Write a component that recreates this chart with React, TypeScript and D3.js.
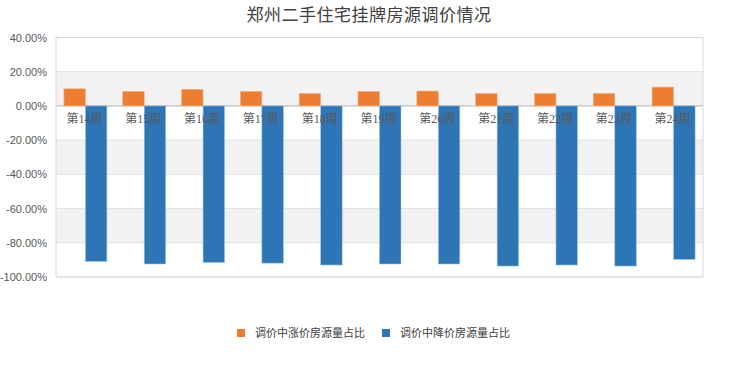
import React from "react";
import * as d3 from "d3";

const categories = ["第14周", "第15周", "第16周", "第17周", "第18周", "第19周", "第20周", "第21周", "第22周", "第23周", "第24周"];
const riseShare = [10.0, 8.5, 9.7, 8.5, 7.3, 8.5, 8.7, 7.3, 7.3, 7.3, 11.0];
const fallShare = [-90.9, -92.4, -91.5, -91.9, -93.0, -92.4, -92.4, -93.6, -93.0, -93.6, -89.7];
const yTicks = [40, 20, 0, -20, -40, -60, -80, -100];
const seriesNames = ["调价中涨价房源量占比", "调价中降价房源量占比"];
const colors = ["#ED7D31", "#2E75B6"];

export default function App() {
  const W = 740, H = 370;
  const left = 56, right = 703, top = 37.5, bottom = 277;
  const y = d3.scaleLinear().domain([-100, 40]).range([bottom, top]);
  const x = d3.scaleBand().domain(categories).range([left, right]).padding(0);
  const bw = 21.5;
  const bands = [] as { a: number; b: number }[];
  for (let v = -100; v < 40; v += 20) bands.push({ a: v, b: v + 20 });

  return (
    <svg width={W} height={H} style={{ position: "absolute", left: 0, top: 0, background: "#fff" }}
      fontFamily="'Noto Sans CJK SC', 'DejaVu Sans', sans-serif">
      <text x={369} y={21} textAnchor="middle" fontSize={17} fill="#404040" letterSpacing={0.5}>郑州二手住宅挂牌房源调价情况</text>
      {bands.map((d, i) => (
        <rect key={"b" + i} x={left} y={y(d.b)} width={right - left} height={y(d.a) - y(d.b)}
          fill={i % 2 === 1 ? "#f2f2f2" : "#ffffff"} />
      ))}
      {yTicks.map((t) => (
        <g key={"t" + t}>
          <line x1={left} x2={right} y1={y(t)} y2={y(t)} stroke={t === 0 ? "#bfbfbf" : "#e2e2e2"} strokeWidth={t === 0 ? 1.2 : 1} />
          <text x={47} y={y(t) + 4} textAnchor="end" fontSize={11} fill="#595959" fontFamily="'Liberation Sans', Arial, sans-serif">{t.toFixed(2)}%</text>
        </g>
      ))}
      <rect x={left} y={top} width={right - left} height={bottom - top} fill="none" stroke="#d9d9d9" />
      {categories.map((c, i) => {
        const cx = x(c)! + x.bandwidth() / 2;
        return (
          <g key={"g" + c}>
            <rect x={cx - bw} y={y(riseShare[i])} width={bw} height={y(0) - y(riseShare[i])} fill={colors[0]} stroke="#f4b183" strokeWidth={0.6} />
            <rect x={cx} y={y(0)} width={bw} height={y(fallShare[i]) - y(0)} fill={colors[1]} stroke="#9dc3e6" strokeWidth={0.6} />
          </g>
        );
      })}
      {categories.map((c) => (
        <text key={"c" + c} x={x(c)! + x.bandwidth() / 2 - 1} y={123} textAnchor="middle" fontSize={12} fill="#595959"
          fontFamily="'Liberation Serif', 'Noto Sans CJK SC', serif">{c}</text>
      ))}
      <g fontSize={11} fill="#404040">
        <rect x={237} y={329} width={8} height={8} fill={colors[0]} />
        <text x={255} y={337}>{seriesNames[0]}</text>
        <rect x={382} y={329} width={8} height={8} fill={colors[1]} />
        <text x={400} y={337}>{seriesNames[1]}</text>
      </g>
    </svg>
  );
}
